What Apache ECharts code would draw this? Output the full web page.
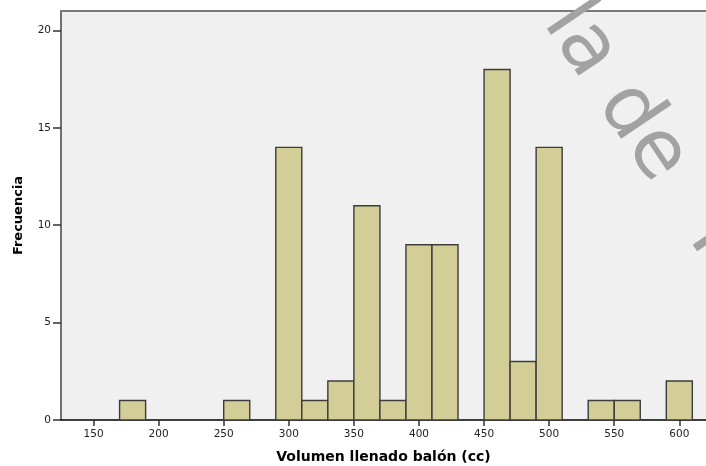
<!DOCTYPE html>
<html>
<head>
<meta charset="utf-8">
<script src="https://cdn.jsdelivr.net/npm/echarts@6/dist/echarts.min.js"></script>
<style>
  html, body { margin: 0; padding: 0; background: #ffffff; }
  #chart { width: 706px; height: 466px; }
</style>
</head>
<body>
<div id="chart"></div>
<script>
// Histogram bins (cc) and their counts
const binLower = [170, 250, 290, 310, 330, 350, 370, 390, 410, 450, 470, 490, 530, 550, 590];
const binUpper = [190, 270, 310, 330, 350, 370, 390, 410, 430, 470, 490, 510, 550, 570, 610];
const frequency = [1, 1, 14, 1, 2, 11, 1, 9, 9, 18, 3, 14, 1, 1, 2];

// Tick labels
const xTicks = [150, 200, 250, 300, 350, 400, 450, 500, 550, 600];
const yTicks = [0, 5, 10, 15, 20];

const xName = 'Volumen llenado balón (cc)';
const yName = 'Frecuencia';
const watermark = 'la de  T';

const rows = binLower.map((lo, i) => [lo, binUpper[i], frequency[i]]);

const chart = echarts.init(document.getElementById('chart'), null, { renderer: 'canvas' });

const labelFont = { fontFamily: 'DejaVu Sans, Verdana, sans-serif', fontSize: 10.5, color: '#222' };
const nameFont = { fontFamily: 'DejaVu Sans, Verdana, sans-serif', fontWeight: 'bold', color: '#000' };

chart.setOption({
  animation: false,
  backgroundColor: '#ffffff',
  grid: {
    left: 61, right: 0, top: 11, bottom: 46,
    outerBoundsMode: 'none',
    containLabel: false,
    show: true, backgroundColor: '#f0f0f0', borderWidth: 0
  },
  xAxis: [{
    type: 'value',
    min: 125, max: 620.5,
    position: 'bottom',
    name: xName,
    nameLocation: 'middle',
    nameGap: 30,
    nameTextStyle: { ...nameFont, fontSize: 14 },
    splitLine: { show: false },
    axisLine: { show: true, onZero: false, lineStyle: { color: '#000', width: 1.5 } },
    axisTick: { show: true, length: 6, customValues: xTicks, lineStyle: { color: '#333', width: 1.5 } },
    axisLabel: { customValues: xTicks, margin: 9, ...labelFont }
  }, {
    type: 'value',
    min: 125, max: 620.5,
    position: 'top',
    splitLine: { show: false },
    axisLine: { show: true, onZero: false, lineStyle: { color: '#7a7a7a', width: 2 } },
    axisTick: { show: false },
    axisLabel: { show: false }
  }],
  yAxis: {
    type: 'value',
    min: 0, max: 21,
    name: yName,
    nameLocation: 'middle',
    nameGap: 36,
    nameTextStyle: { ...nameFont, fontSize: 13 },
    splitLine: { show: false },
    axisLine: { show: true, onZero: false, lineStyle: { color: '#444', width: 1.5 } },
    axisTick: { show: true, length: 8, customValues: yTicks, lineStyle: { color: '#333', width: 1.5 } },
    axisLabel: { customValues: yTicks, margin: 10, ...labelFont }
  },
  series: [{
    type: 'custom',
    xAxisIndex: 0,
    data: rows,
    renderItem: function (params, api) {
      const topLeft = api.coord([api.value(0), api.value(2)]);
      const bottomRight = api.coord([api.value(1), 0]);
      return {
        type: 'rect',
        shape: {
          x: topLeft[0], y: topLeft[1],
          width: bottomRight[0] - topLeft[0],
          height: bottomRight[1] - topLeft[1]
        },
        style: { fill: '#d3ce98', stroke: '#3c3c3c', lineWidth: 1.4 }
      };
    },
    z: 3
  }],
  graphic: [{
    type: 'text',
    x: 560, y: 11,
    rotation: -56 * Math.PI / 180,
    z: 100,
    silent: true,
    style: {
      text: watermark,
      fontFamily: 'DejaVu Sans, Verdana, sans-serif',
      fontSize: 80,
      fill: '#a2a2a2',
      align: 'left',
      verticalAlign: 'middle'
    }
  }]
});
</script>
</body>
</html>
